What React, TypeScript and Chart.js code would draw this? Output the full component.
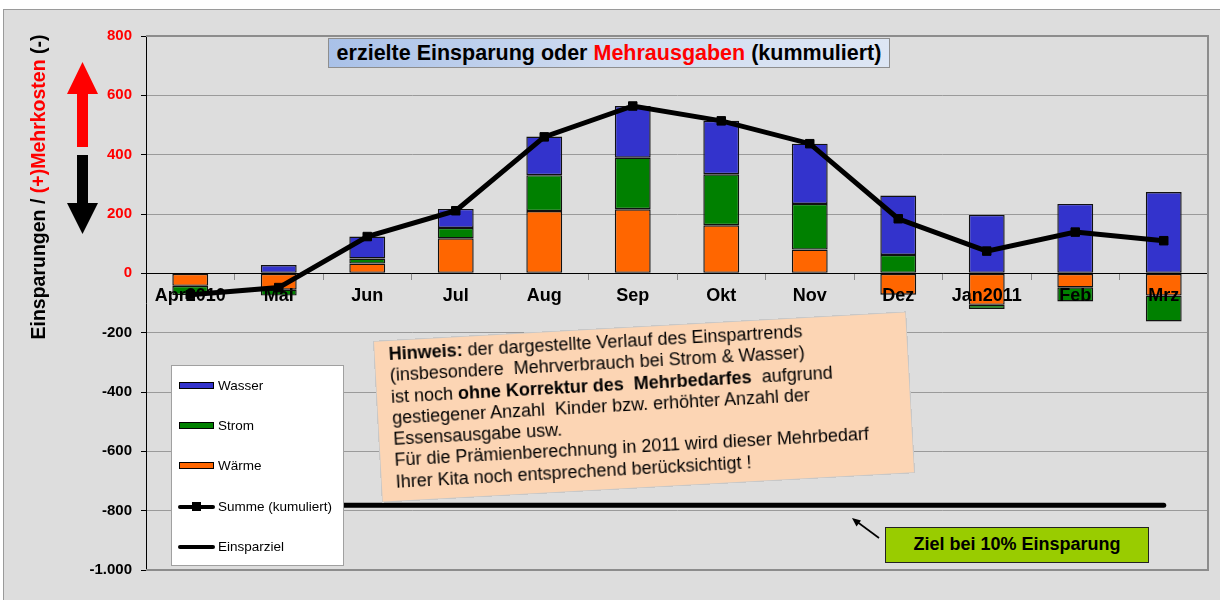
import React, { useEffect, useRef } from "react";
import { Chart, registerables } from "chart.js";

Chart.register(...registerables);

const FONT = "'Liberation Sans', Arial, Helvetica, sans-serif";

// ---- data ----
const categories = ["Apr2010", "Mai", "Jun", "Jul", "Aug", "Sep", "Okt", "Nov", "Dez", "Jan2011", "Feb", "Mrz"];
const waerme = [-42, -55, 33, 118, 210, 216, 162, 80, -72, -106, -47, -75];
const strom = [-31, -20, 17, 35, 121, 174, 172, 154, 62, -14, -48, -87];
const wasser = [0, 28, 74, 64, 130, 174, 180, 203, 200, 197, 234, 274];
const summe = [-72, -48, 124, 211, 460, 564, 514, 437, 184, 75, 139, 110];
const einsparziel = [-782, -782, -782, -782, -782, -782, -782, -782, -782, -782, -782, -782];
const yMin = -1000;
const yMax = 800;
const yStep = 200;

const nameWasser = "Wasser";
const nameStrom = "Strom";
const nameWaerme = "Wärme";
const nameSumme = "Summe (kumuliert)";
const nameZiel = "Einsparziel";

const colWasser = "#3333CC";
const colStrom = "#008000";
const colWaerme = "#FF6600";

const titleParts = [
  { text: "erzielte Einsparung oder ", color: "#000" },
  { text: "Mehrausgaben", color: "#FF0000" },
  { text: " (kummuliert)", color: "#000" },
];

const noteLines: { text: string; bold?: boolean }[][] = [
  [{ text: "Hinweis:", bold: true }, { text: " der dargestellte Verlauf des Einspartrends" }],
  [{ text: "(insbesondere  Mehrverbrauch bei Strom & Wasser)" }],
  [{ text: "ist noch " }, { text: "ohne Korrektur des  Mehrbedarfes", bold: true }, { text: "  aufgrund" }],
  [{ text: "gestiegener Anzahl  Kinder bzw. erhöhter Anzahl der" }],
  [{ text: "Essensausgabe usw." }],
  [{ text: "Für die Prämienberechnung in 2011 wird dieser Mehrbedarf" }],
  [{ text: "Ihrer Kita noch entsprechend berücksichtigt !" }],
];

const zielText = "Ziel bei 10% Einsparung";

const legendItems = [
  { label: nameWasser, kind: "bar", color: colWasser },
  { label: nameStrom, kind: "bar", color: colStrom },
  { label: nameWaerme, kind: "bar", color: colWaerme },
  { label: nameSumme, kind: "lineMarker", color: "#000" },
  { label: nameZiel, kind: "line", color: "#000" },
];

const fmt = (v: number) => {
  const s = Math.abs(v).toString().replace(/\B(?=(\d{3})+(?!\d))/g, ".");
  return (v < 0 ? "-" : "") + s;
};

const plotFrame = {
  id: "plotFrame",
  beforeDatasetsDraw(chart: any) {
    const { ctx, chartArea: a } = chart;
    ctx.save();
    ctx.strokeStyle = "#8C8C8C";
    ctx.lineWidth = 2;
    ctx.beginPath();
    ctx.moveTo(a.left, a.top);
    ctx.lineTo(a.right, a.top);
    ctx.lineTo(a.right, a.bottom);
    ctx.lineTo(a.left, a.bottom);
    ctx.stroke();
    ctx.restore();
  },
};

// category labels drawn above the bars but below the lines
const xLabelsOverBars = {
  id: "xLabelsOverBars",
  afterDatasetDraw(chart: any, args: any) {
    if (args.index !== 0) return;
    const { ctx } = chart;
    const xs = chart.scales.x;
    const ys = chart.scales.y;
    const y0 = ys.getPixelForValue(0);
    ctx.save();
    ctx.font = `bold 18px ${FONT}`;
    ctx.fillStyle = "#000";
    ctx.textAlign = "center";
    ctx.textBaseline = "middle";
    (chart.data.labels as string[]).forEach((lab, i) => {
      ctx.fillText(lab, xs.getPixelForTick(i), y0 + 23);
    });
    ctx.restore();
  },
};

function ChartCanvas() {
  const ref = useRef<HTMLCanvasElement | null>(null);
  useEffect(() => {
    if (!ref.current) return;
    const barCommon = {
      type: "bar" as const,
      stack: "bars",
      order: 2,
      borderColor: "#111",
      borderWidth: 1.4,
      borderSkipped: false,
      barPercentage: 0.405,
      categoryPercentage: 1,
    };
    const chart = new Chart(ref.current, {
      type: "bar",
      data: {
        labels: categories,
        datasets: [
          { ...barCommon, label: nameWaerme, data: waerme, backgroundColor: colWaerme },
          { ...barCommon, label: nameStrom, data: strom, backgroundColor: colStrom },
          { ...barCommon, label: nameWasser, data: wasser, backgroundColor: colWasser },
          {
            type: "line",
            label: nameSumme,
            data: summe,
            stack: "summe",
            order: 0,
            borderColor: "#000",
            backgroundColor: "#000",
            borderWidth: 5,
            pointStyle: "rect",
            pointRadius: 6,
            pointBorderWidth: 1,
            pointBackgroundColor: "#000",
            pointBorderColor: "#000",
            tension: 0,
            fill: false,
          } as any,
          {
            type: "line",
            label: nameZiel,
            data: einsparziel,
            stack: "ziel",
            order: 1,
            borderColor: "#000",
            borderWidth: 5,
            borderCapStyle: "round",
            pointRadius: 0,
            tension: 0,
            fill: false,
          } as any,
        ],
      },
      options: {
        animation: false,
        responsive: true,
        maintainAspectRatio: false,
        layout: { padding: { top: 36, right: 12, bottom: 30, left: 0 } },
        plugins: {
          legend: { display: false },
          title: { display: false },
          tooltip: { enabled: false },
        },
        scales: {
          x: {
            stacked: true,
            position: { y: 0 } as any,
            grid: {
              drawOnChartArea: false,
              drawTicks: true,
              tickLength: 6,
              color: "#8A8A8A",
              offset: true,
            },
            border: { color: "#000", width: 1 },
            ticks: {
              color: "rgba(0,0,0,0)",
              font: { family: FONT, size: 18, weight: "bold" },
              padding: 6,
              autoSkip: false,
              maxRotation: 0,
            },
          },
          y: {
            stacked: true,
            min: yMin,
            max: yMax,
            ticks: {
              stepSize: yStep,
              padding: 9,
              font: { family: FONT, size: 15, weight: "bold" },
              color: (c: any) => (c.tick && c.tick.value >= 0 ? "#FF0000" : "#000000"),
              callback: (v: any) => fmt(Number(v)),
            },
            grid: { color: "#9A9A9A", lineWidth: 1, tickLength: 5, tickColor: "#000" },
            border: { color: "#000", width: 1 },
            afterFit: (s: any) => {
              s.width = 146;
            },
          },
        },
      },
      plugins: [plotFrame, xLabelsOverBars],
    } as any);
    return () => chart.destroy();
  }, []);
  return <canvas ref={ref} />;
}

export default function App() {
  return (
    <div
      style={{
        position: "absolute",
        left: 0,
        top: 0,
        width: 1220,
        height: 600,
        overflow: "hidden",
        background: "#fff",
        fontFamily: FONT,
      }}
    >
      <div
        style={{
          position: "absolute",
          left: 3,
          top: 9,
          width: 1240,
          height: 620,
          background: "#DDDDDD",
          border: "1px solid #9A9A9A",
        }}
      />
      <div style={{ position: "absolute", left: 0, top: 0, width: 1220, height: 600 }}>
        <ChartCanvas />
      </div>

      {/* arrows */}
      <svg
        width={1220}
        height={600}
        style={{ position: "absolute", left: 0, top: 0, pointerEvents: "none" }}
      >
        <polygon points="77,147 77,94 67,94 82.5,62 98,94 88,94 88,147" fill="#FF0000" />
        <polygon points="77,155 88,155 88,203 98,203 82.5,234 67,203 77,203" fill="#000" />
        <line x1={879} y1={538} x2={856} y2={521} stroke="#000" strokeWidth={1.6} />
        <polygon points="852,518 861,520.5 856.5,526.5" fill="#000" />
      </svg>

      {/* y-axis title */}
      <div
        style={{
          position: "absolute",
          left: 38 - 170,
          top: 186.5 - 11,
          width: 340,
          height: 22,
          lineHeight: "22px",
          textAlign: "center",
          whiteSpace: "nowrap",
          transform: "rotate(-90deg)",
          fontWeight: "bold",
          fontSize: 19.5,
          color: "#000",
        }}
      >
        Einsparungen / <span style={{ color: "#FF0000" }}>(+)Mehrkosten</span> (-)
      </div>

      {/* title box */}
      <div
        style={{
          position: "absolute",
          left: 328,
          top: 38,
          width: 560,
          height: 28,
          lineHeight: "28px",
          background: "linear-gradient(to right, #A9C1E8, #D0DCF0 50%, #DDE6F4)",
          border: "1px solid #8E8E8E",
          textAlign: "center",
          whiteSpace: "nowrap",
          fontWeight: "bold",
          fontSize: 21.5,
        }}
      >
        {titleParts.map((p, i) => (
          <span key={i} style={{ color: p.color }}>
            {p.text}
          </span>
        ))}
      </div>

      {/* note box */}
      <div
        style={{
          position: "absolute",
          left: 644.3 - 267,
          top: 406.5 - 81,
          width: 534,
          height: 162,
          boxSizing: "border-box",
          background: "#FCD5B4",
          border: "1px solid #C8C8C8",
          transform: "rotate(-3.16deg)",
          padding: "3px 0 0 14px",
          fontSize: 18,
          lineHeight: "21.25px",
          color: "#000",
        }}
      >
        {noteLines.map((ln, i) => (
          <div key={i} style={{ whiteSpace: "pre" }}>
            {ln.map((p, j) => (
              <span key={j} style={{ fontWeight: p.bold ? "bold" : "normal" }}>
                {p.text}
              </span>
            ))}
          </div>
        ))}
      </div>

      {/* legend */}
      <div
        style={{
          position: "absolute",
          left: 171,
          top: 365,
          width: 173,
          height: 201,
          boxSizing: "border-box",
          background: "#fff",
          border: "1px solid #A0A0A0",
        }}
      >
        {legendItems.map((it, i) => {
          const cy = [20, 60, 100, 140.7, 180.7][i];
          return (
            <div key={i}>
              {it.kind === "bar" && (
                <div
                  style={{
                    position: "absolute",
                    left: 7,
                    top: cy - 4,
                    width: 35,
                    height: 7,
                    boxSizing: "border-box",
                    background: it.color,
                    border: "1px solid #000",
                  }}
                />
              )}
              {it.kind !== "bar" && (
                <div
                  style={{
                    position: "absolute",
                    left: 6,
                    top: cy - 2,
                    width: 37,
                    height: 4,
                    background: it.color,
                    borderRadius: 2,
                  }}
                />
              )}
              {it.kind === "lineMarker" && (
                <div
                  style={{
                    position: "absolute",
                    left: 20,
                    top: cy - 4.5,
                    width: 9,
                    height: 9,
                    background: "#000",
                  }}
                />
              )}
              <div
                style={{
                  position: "absolute",
                  left: 46,
                  top: cy - 9,
                  height: 18,
                  lineHeight: "18px",
                  fontSize: 13.5,
                  whiteSpace: "nowrap",
                  color: "#000",
                }}
              >
                {it.label}
              </div>
            </div>
          );
        })}
      </div>

      {/* target box */}
      <div
        style={{
          position: "absolute",
          left: 885,
          top: 527,
          width: 264,
          height: 36,
          boxSizing: "border-box",
          background: "#99CC00",
          border: "1.5px solid #222",
          textAlign: "center",
          lineHeight: "33px",
          fontWeight: "bold",
          fontSize: 18,
          whiteSpace: "nowrap",
        }}
      >
        {zielText}
      </div>
    </div>
  );
}
